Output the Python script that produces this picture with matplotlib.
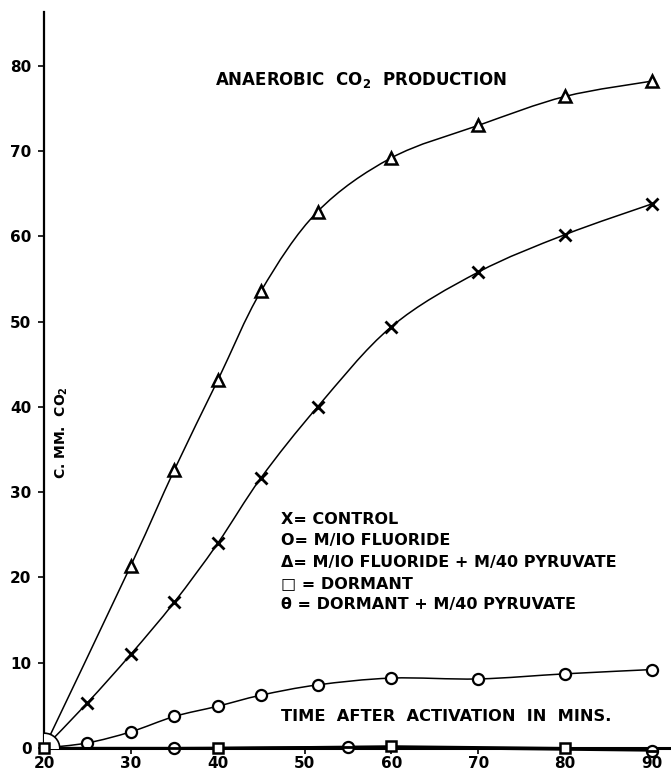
import numpy as np
import matplotlib.pyplot as plt
from matplotlib.path import Path
from matplotlib.patches import PathPatch

# readings (minutes after activation, c.mm. CO2)
control_x = [25, 30, 35, 40, 45, 51.5, 60, 70, 80, 90]
control_y = [5.3, 11.0, 17.1, 24.0, 31.7, 40.0, 49.4, 55.8, 60.2, 63.8]

fluor_x = [25, 30, 35, 40, 45, 51.5, 60, 70, 80, 90]
fluor_y = [0.6, 1.9, 3.7, 4.9, 6.2, 7.4, 8.2, 8.1, 8.7, 9.2]

fluor_pyr_x = [30, 35, 40, 45, 51.5, 60, 70, 80, 90]
fluor_pyr_y = [21.4, 32.6, 43.1, 53.6, 62.9, 69.2, 73.0, 76.4, 78.2]

dormant_x = [20, 40, 60, 80]
dormant_y = [0.0, 0.0, 0.2, 0.0]

dormant_pyr_x = [35, 55, 90]
dormant_pyr_y = [0.0, 0.1, -0.3]

origin_x, origin_y = 20, 0

xticks = [20, 30, 40, 50, 60, 70, 80, 90]
yticks = [0, 10, 20, 30, 40, 50, 60, 70, 80]

legend_lines = [
    "X= CONTROL",
    "O= M/IO FLUORIDE",
    "\u0394= M/IO FLUORIDE + M/40 PYRUVATE",
    "\u25a1 = DORMANT",
    "\u03b8 = DORMANT + M/40 PYRUVATE",
]

plt.rcParams['font.family'] = ['DejaVu Sans']
plt.rcParams['font.weight'] = 'bold'


def smooth_curve(xs, ys):
    # hand-drawn look: catmull-rom through the points, as bezier segments
    pts = np.column_stack([xs, ys]).astype(float)
    verts = [pts[0]]
    codes = [Path.MOVETO]
    n = len(pts)
    for i in range(n - 1):
        p0 = pts[i - 1] if i > 0 else pts[i]
        p1, p2 = pts[i], pts[i + 1]
        p3 = pts[i + 2] if i + 2 < n else pts[i + 1]
        verts += [p1 + (p2 - p0) / 6, p2 - (p3 - p1) / 6, p2]
        codes += [Path.CURVE4] * 3
    return Path(verts, codes)


fig = plt.figure(figsize=(6.71, 7.71), dpi=100)
ax = fig.add_axes([0.0656, 0.0298, 0.9344, 0.9546])
ax.set_xlim(20, 92.2)
ax.set_ylim(0, 86.3)

lw = 1.1
for xs, ys in [(control_x, control_y), (fluor_x, fluor_y), (fluor_pyr_x, fluor_pyr_y)]:
    p = smooth_curve([origin_x] + xs, [origin_y] + ys)
    ax.add_patch(PathPatch(p, facecolor='none', edgecolor='black', lw=lw))

ax.plot(dormant_x, dormant_y, color='black', lw=1.6, clip_on=False)
ax.plot([origin_x] + dormant_pyr_x, [origin_y] + dormant_pyr_y, color='black', lw=1.6, clip_on=False)

ax.plot(control_x, control_y, ls='none', marker='x', ms=8, mew=2, color='black')
ax.plot(fluor_x, fluor_y, ls='none', marker='o', ms=8, mew=1.6, mfc='white', mec='black')
ax.plot(fluor_pyr_x, fluor_pyr_y, ls='none', marker='^', ms=8, mew=1.8, mfc='white', mec='black')
ax.plot(dormant_x, dormant_y, ls='none', marker='s', ms=7, mew=1.8, mfc='white', mec='black',
        clip_on=False, zorder=4)
ax.plot(dormant_pyr_x, dormant_pyr_y, ls='none', marker='o', ms=8, mew=1.6, mfc='white', mec='black',
        clip_on=False, zorder=4)
ax.plot(dormant_pyr_x, dormant_pyr_y, ls='none', marker='_', ms=8, mew=2, color='black',
        clip_on=False, zorder=5)

# big open circle at the origin, clipped to a quarter by the axes
ax.plot([origin_x], [origin_y], ls='none', marker='o', ms=22, mew=1.2, mfc='white', mec='black', zorder=3)

ax.spines['top'].set_visible(False)
ax.spines['right'].set_visible(False)
ax.spines['left'].set_linewidth(1.6)
ax.spines['bottom'].set_linewidth(2.2)

ax.set_xticks(xticks)
ax.set_yticks(yticks)
ax.set_xticklabels([str(t) for t in xticks], fontsize=11, fontweight='bold')
ax.set_yticklabels([str(t) for t in yticks], fontsize=11, fontweight='bold')
ax.tick_params(axis='both', length=4, width=1.2, direction='out')
ax.tick_params(axis='x', pad=1.5)
ax.tick_params(axis='y', pad=5)

ax.text(56.5, 78.3, r"ANAEROBIC  CO$_\mathbf{2}$  PRODUCTION", fontsize=12, fontweight='bold',
        ha='center', va='center')
ax.text(66.3, 3.7, "TIME  AFTER  ACTIVATION  IN  MINS.", fontsize=11.7, fontweight='bold',
        ha='center', va='center')
ax.text(22.1, 37, r"C. MM.  CO$_\mathbf{2}$", fontsize=10, fontweight='bold',
        rotation=90, ha='center', va='center')

for i, line in enumerate(legend_lines):
    ax.text(47.3, 26.8 - 2.5 * i, line, fontsize=11.5, fontweight='bold', ha='left', va='center')

fig.savefig('out.png', dpi=100)
